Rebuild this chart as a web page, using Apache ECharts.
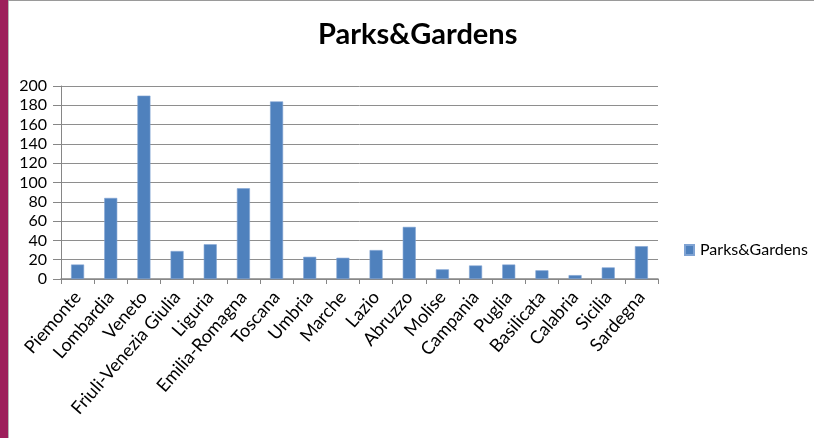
<!DOCTYPE html>
<html>
<head>
<meta charset="utf-8">
<script src="https://cdn.jsdelivr.net/npm/echarts@6/dist/echarts.min.js"></script>
<style>
html,body{margin:0;padding:0;background:#fff;}
#chart{width:814px;height:438px;}
</style>
</head>
<body>
<div id="chart"></div>
<script>
var categories = ["Piemonte","Lombardia","Veneto","Friuli-Venezia Giulia","Liguria","Emilia-Romagna","Toscana","Umbria","Marche","Lazio","Abruzzo","Molise","Campania","Puglia","Basilicata","Calabria","Sicilia","Sardegna"];
var values = [15,84,190,29,36,94,184,23,22,30,54,10,14,15,9,4,12,34];
var seriesName = "Parks&Gardens";
var titleText = "Parks&Gardens";

var chart = echarts.init(document.getElementById('chart'), null, {renderer:'canvas'});
var font = 'Lato, "Open Sans", sans-serif';
chart.setOption({
  animation:false,
  backgroundColor:'#ffffff',
  graphic:[
    {type:'rect', shape:{x:0,y:0,width:8,height:438}, style:{fill:'#9d1f5b'}, silent:true},
    {type:'line', shape:{x1:8.5,y1:0,x2:8.5,y2:438}, style:{stroke:'#b8b8b8',lineWidth:1}, silent:true},
    {type:'line', shape:{x1:8,y1:0.5,x2:814,y2:0.5}, style:{stroke:'#9a9a9a',lineWidth:1}, silent:true}
  ],
  title:{
    text:titleText,
    left:318,
    top:20,
    padding:0,
    textStyle:{fontFamily:font,fontWeight:'bold',fontSize:29,color:'#000'}
  },
  legend:{
    data:[seriesName],
    left:684,
    top:242,
    padding:0,
    icon:'rect',
    itemWidth:9,
    itemHeight:10,
    textStyle:{fontFamily:font,fontSize:16,color:'#000',padding:[0,0,0,1]}
  },
  grid:{left:61,right:156,top:86,bottom:159,containLabel:false},
  xAxis:{
    type:'category',
    data:categories,
    boundaryGap:true,
    axisLine:{show:true,lineStyle:{color:'#868686',width:1.5}},
    axisTick:{show:true,length:5,interval:0,alignWithLabel:false,lineStyle:{color:'#868686'}},
    axisLabel:{interval:0,rotate:49,margin:15,fontFamily:font,fontSize:18,color:'#000'},
    splitLine:{show:false}
  },
  yAxis:{
    type:'value',
    min:0,max:200,interval:20,
    axisLine:{show:true,lineStyle:{color:'#868686',width:1}},
    axisTick:{show:true,length:8,lineStyle:{color:'#868686'}},
    axisLabel:{margin:14,fontFamily:font,fontSize:16,color:'#000'},
    splitLine:{show:true,lineStyle:{color:'#8e8e8e',width:1}}
  },
  series:[{
    name:seriesName,
    type:'bar',
    data:values,
    barWidth:13,
    itemStyle:{color:'#4f81bd',borderColor:'#7fa3d3',borderWidth:0.6}
  }]
});
</script>
</body>
</html>
